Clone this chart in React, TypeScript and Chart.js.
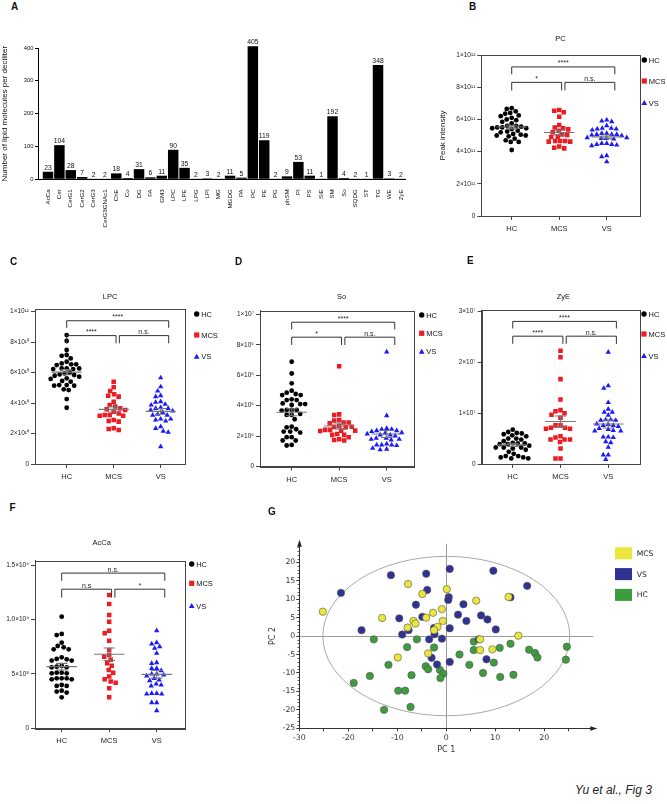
import React, { useEffect, useRef } from 'react';
import { Chart, registerables } from 'chart.js';

Chart.register(...registerables);

const SANS = '"Liberation Sans", Arial, Helvetica, sans-serif';
const DEJAVU = '"DejaVu Sans", Verdana, sans-serif';
Chart.defaults.font.family = SANS;

// ================= Panel A : lipid classes =================
const lipidClasses = ['AcCa', 'Cer', 'CerG1', 'CerG2', 'CerG3', 'CerG3GNAc1', 'ChE', 'Co', 'DG', 'FA', 'GM3', 'LPC', 'LPE', 'LPG', 'LPI', 'MG', 'MGDG', 'PA', 'PC', 'PE', 'PG', 'phSM', 'PI', 'PS', 'SiE', 'SM', 'So', 'SQDG', 'ST', 'TG', 'WE', 'ZyE'];
const lipidCounts = [23, 104, 28, 7, 2, 2, 18, 4, 31, 6, 11, 90, 35, 2, 3, 2, 11, 5, 405, 119, 2, 9, 53, 11, 1, 192, 4, 2, 1, 348, 3, 2];
const countTicks = [0, 100, 200, 300, 400];
const countTitle = 'Number of lipid molecules per deciliter';

// ================= Dot plots (B-F) =================
const groups = ['HC', 'MCS', 'VS'];
const groupColors = ['#000000', '#ec1c24', '#1a1aff'];
const groupShapes = ['circle', 'rect', 'triangle'];
const groupRadii = [2.4, 3.2, 3.1];

// PC (x 1e11)
const pcHC = [6.7, 6.65, 6.5, 6.4, 6.35, 6.25, 6.2, 6.1, 6.0, 5.95, 5.85, 5.75, 5.6, 5.6, 5.55, 5.5, 5.5, 5.45, 5.45, 5.4, 5.3, 5.25, 5.2, 5.1, 5.05, 5.0, 5.0, 4.95, 4.8, 4.7, 4.6, 4.6, 4.1];
const pcMCS = [6.58, 6.54, 6.44, 6.17, 5.65, 5.49, 5.45, 5.38, 5.3, 5.2, 5.07, 5.03, 4.93, 4.9, 4.66, 4.66, 4.66, 4.62, 4.62, 4.31, 4.24, 4.2];
const pcVS = [5.96, 5.9, 5.86, 5.61, 5.45, 5.45, 5.4, 5.4, 5.34, 5.13, 5.13, 5.07, 5.07, 5.07, 5.03, 4.99, 4.87, 4.87, 4.82, 4.82, 4.78, 4.51, 4.51, 4.45, 4.45, 4.41, 4.37, 3.75, 3.69, 3.37];
const pcTicks = [0, 2e11, 4e11, 6e11, 8e11, 1e12];
const pcTickLabels = ['0', '2×10¹¹', '4×10¹¹', '6×10¹¹', '8×10¹¹', '1×10¹²'];
const pcSig = ['****', '*', 'n.s.'];

// LPC (x 1e10)
const lpcHC = [8.46, 8.07, 7.48, 7.15, 7.1, 6.93, 6.71, 6.6, 6.54, 6.54, 6.49, 6.27, 6.27, 6.27, 6.23, 6.23, 5.99, 5.94, 5.88, 5.84, 5.79, 5.73, 5.62, 5.58, 5.45, 5.4, 5.18, 5.18, 5.14, 5.14, 4.9, 4.85, 4.26, 3.69];
const lpcMCS = [5.4, 5.03, 4.79, 4.57, 4.48, 4.42, 4.09, 3.87, 3.77, 3.65, 3.59, 3.54, 3.43, 3.32, 3.21, 3.21, 3.17, 3.17, 2.89, 2.82, 2.78, 2.34, 2.3, 2.23];
const lpcVS = [5.66, 5.07, 4.79, 4.48, 4.42, 4.09, 4.05, 3.92, 3.87, 3.7, 3.65, 3.65, 3.54, 3.48, 3.39, 3.26, 3.21, 3.21, 2.95, 2.95, 2.89, 2.82, 2.45, 2.34, 2.16, 2.08, 1.14];
const lpcTicks = [0, 2e10, 4e10, 6e10, 8e10, 1e11];
const lpcTickLabels = ['0', '2×10¹⁰', '4×10¹⁰', '6×10¹⁰', '8×10¹⁰', '1×10¹¹'];
const lpcSig = ['****', '****', 'n.s.'];

// So (x 1e6)
const soHC = [6.89, 6.12, 5.47, 4.99, 4.86, 4.77, 4.7, 4.7, 4.42, 4.37, 4.37, 4.15, 4.11, 4.11, 4.05, 3.72, 3.72, 3.72, 3.68, 3.46, 3.39, 3.39, 3.11, 2.62, 2.58, 2.45, 2.3, 2.3, 2.23, 1.93, 1.93, 1.71, 1.71, 1.42, 1.38];
const soMCS = [6.6, 3.43, 3.39, 3.06, 3.02, 2.89, 2.89, 2.84, 2.67, 2.62, 2.62, 2.58, 2.41, 2.41, 2.36, 2.36, 2.34, 2.14, 2.08, 2.08, 1.93, 1.79, 1.75, 1.71];
const soVS = [7.54, 3.35, 2.51, 2.45, 2.45, 2.36, 2.36, 2.3, 2.23, 2.19, 2.14, 2.08, 2.08, 2.01, 1.86, 1.86, 1.79, 1.79, 1.75, 1.49, 1.42, 1.42, 1.42, 1.38, 1.2, 1.14, 1.1];
const soTicks = [0, 2e6, 4e6, 6e6, 8e6, 1e7];
const soTickLabels = ['0', '2×10⁶', '4×10⁶', '6×10⁶', '8×10⁶', '1×10⁷'];
const soSig = ['****', '*', 'n.s.'];

// ZyE (x 1e7)
const zyHC = [0.675, 0.63, 0.61, 0.6, 0.585, 0.565, 0.545, 0.5, 0.5, 0.48, 0.45, 0.416, 0.403, 0.403, 0.39, 0.39, 0.36, 0.325, 0.325, 0.325, 0.305, 0.28, 0.24, 0.2, 0.156, 0.156, 0.13, 0.13, 0.11, 0.11];
const zyMCS = [2.23, 2.1, 1.67, 1.27, 1.06, 1.04, 1.0, 0.97, 0.91, 0.76, 0.76, 0.714, 0.714, 0.695, 0.695, 0.546, 0.52, 0.48, 0.48, 0.48, 0.435, 0.305, 0.11, 0.11];
const zyVS = [2.2, 1.54, 1.49, 1.21, 1.08, 1.02, 1.02, 0.96, 0.87, 0.87, 0.86, 0.86, 0.79, 0.78, 0.76, 0.76, 0.74, 0.7, 0.68, 0.66, 0.65, 0.65, 0.53, 0.53, 0.52, 0.44, 0.42, 0.33, 0.18, 0.18, 0.09];
const zyTicks = [0, 1e7, 2e7, 3e7];
const zyTickLabels = ['0', '1×10⁷', '2×10⁷', '3×10⁷'];
const zySig = ['****', '****', 'n.s.'];

// AcCa (x 1e8)
const acHC = [10.26, 8.67, 8.57, 7.87, 7.56, 7.44, 7.26, 7.26, 6.52, 6.37, 6.34, 6.22, 6.22, 5.73, 5.66, 5.6, 5.6, 5.11, 5.11, 5.05, 5.05, 4.59, 4.59, 4.59, 4.5, 4.5, 3.98, 3.89, 3.89, 3.46, 3.37, 3.28, 2.85];
const acMCS = [12.25, 11.42, 10.41, 9.8, 8.97, 8.73, 8.05, 7.2, 6.74, 6.58, 6.3, 5.97, 5.75, 5.36, 5.11, 4.75, 4.5, 4.3, 4.19, 3.67, 2.85];
const acVS = [8.97, 7.87, 7.75, 7.5, 7.35, 6.89, 6.03, 5.97, 5.51, 5.51, 5.3, 4.99, 4.99, 4.9, 4.81, 4.59, 4.44, 4.38, 4.07, 3.98, 3.89, 3.21, 3.21, 3.15, 3.15, 2.36, 2.36, 1.62];
const acTicks = [0, 5e8, 1e9, 1.5e9];
const acTickLabels = ['0', '5×10⁸', '1.0×10⁹', '1.5×10⁹'];
const acSig = ['n.s.', 'n.s', '*'];

// ================= Panel G : PCA =================
const pcaGroups = ['MCS', 'VS', 'HC'];
const pcaColors = ['#e9e63c', '#2f3293', '#3e9b3e'];
const mcsPC1 = [-25.2, -13.1, -7.8, -4.9, 0.1, -2.7, -0.9, -4.1, -6.7, -6.3, -7.9, -0.7, -1.8, -2.5, 6.1, 12.7, 14.7, 6.9, 6.9, 9.4, -9.9, -3.7];
const mcsPC2 = [6.6, 4.9, 14.1, 11.4, 12.7, 6.3, 7.3, 5.0, 4.1, 3.4, 2.3, 4.1, 2.5, 1.6, 9.6, 10.6, 0.1, -0.9, -3.8, -3.6, -5.8, -4.7];
const vsPC1 = [-21.5, -11.3, -4.1, 0.7, 9.6, 16.5, 13.1, -3.9, 0.5, 0.4, -6.2, 3.5, -9.6, -4.9, 2.4, 7.1, 8.4, 4.1, -17.3, -7.7, -9.0, -2.5, -2.4, 0.7, 10.1, -3.5, -0.9, 6.6, -3.0, -1.9, 0.7, 8.2];
const vsPC2 = [11.7, 16.5, 16.9, 18.2, 17.7, 13.6, 10.5, 12.5, 10.5, 9.8, 8.5, 8.6, 4.8, 5.2, 5.8, 5.6, 4.5, 4.1, 1.6, 1.6, 0.4, 2.2, 0.5, 2.1, 1.8, -0.9, -0.7, -0.9, -5.9, -7.7, -7.0, -6.3];
const hcPC1 = [-14.8, -6.0, -8.0, -2.5, -11.8, -15.6, -18.9, -7.1, -4.2, -3.7, -1.3, -0.6, -1.2, -9.8, -8.4, -12.7, -7.3, 2.7, 4.7, 5.6, 5.6, 7.5, 9.7, 10.9, 11.0, 13.1, 13.7, 16.9, 18.1, 18.6, 24.6, 24.4];
const hcPC2 = [-0.9, -0.9, -3.0, -3.1, -7.8, -10.8, -12.7, -10.6, -8.2, -9.0, -9.2, -10.2, -11.4, -14.8, -14.8, -20.0, -19.2, -5.0, -7.8, -1.5, -3.8, -10.0, -7.2, -3.2, -11.1, -2.1, -10.5, -3.7, -4.6, -5.8, -2.9, -6.4];
const pc1Ticks = [-30, -25, -20, -15, -10, -5, 0, 5, 10, 15, 20, 25];
const pc1TickLabels = ['-30', '', '-20', '', '-10', '', '0', '', '10', '', '20', ''];
const pc2Ticks = [-25, -20, -15, -10, -5, 0, 5, 10, 15, 20];
const pc2TickLabels = ['-25', '-20', '-15', '-10', '-5', '0', '5', '10', '15', '20'];
const ellipseRadii = [25.2, 21.6];

// ================= helpers =================
type Area = { l: number; t: number; r: number; b: number };
type DotSpec = {
  title: string; unit: number; values: number[][]; ticks: number[]; tickLabels: string[]; yMax: number;
  xMin: number; xMax: number; sig: string[]; W: number; H: number; area: Area;
  titleXY: [number, number]; legendX: number; legendY: number[]; yTitle?: string; yTitlePad?: number;
};

const BR_TOP = 0.926, BR_TOP_LEG = 0.88, BR_LOW = 0.83, BR_LOW_LEG = 0.78;
const BR_X = { a: 1, b1: 2.05, b2: 2.12, c: 3.17 };
const MEAN_HALF = 0.32, CAP_HALF = 0.12;

function stats(v: number[]) {
  const n = v.length;
  const m = v.reduce((a, b) => a + b, 0) / n;
  const sd = Math.sqrt(v.reduce((a, b) => a + (b - m) * (b - m), 0) / (n - 1));
  return { m, se: sd / Math.sqrt(n) };
}

function beeswarm(chart: any, gap: number) {
  const xs = chart.scales.x, ys = chart.scales.y;
  chart.data.datasets.forEach((ds: any, gi: number) => {
    const cx = xs.getPixelForValue(gi + 1);
    const order = ds.data.map((p: any, k: number) => ({ k, py: ys.getPixelForValue(p.y) })).sort((a: any, b: any) => a.py - b.py);
    const placed: { px: number; py: number }[] = [];
    for (const p of order) {
      let px = cx;
      for (let step = 0; step < 800; step++) {
        const off = Math.ceil(step / 2) * 0.5 * (step % 2 ? -1 : 1);
        const cand = cx + off;
        if (placed.every(q => (q.px - cand) ** 2 + (q.py - p.py) ** 2 >= gap * gap)) { px = cand; break; }
      }
      placed.push({ px, py: p.py });
      ds.data[p.k] = { x: xs.getValueForPixel(px), y: ds.data[p.k].y };
    }
  });
  chart.update('none');
}

function drawMarker(ctx: CanvasRenderingContext2D, shape: string, x: number, y: number, color: string) {
  ctx.fillStyle = color;
  ctx.beginPath();
  if (shape === 'circle') ctx.arc(x, y, 2.7, 0, Math.PI * 2);
  else if (shape === 'rect') ctx.rect(x - 2.6, y - 2.6, 5.2, 5.2);
  else { ctx.moveTo(x, y - 3); ctx.lineTo(x + 2.9, y + 2); ctx.lineTo(x - 2.9, y + 2); ctx.closePath(); }
  ctx.fill();
}

function buildDot(canvas: HTMLCanvasElement, s: DotSpec): Chart {
  const datasets = s.values.map((vals, gi) => ({
    label: groups[gi],
    data: vals.map(v => ({ x: gi + 1, y: v * s.unit })),
    pointStyle: groupShapes[gi],
    pointRadius: groupRadii[gi],
    pointHoverRadius: groupRadii[gi],
    backgroundColor: groupColors[gi],
    borderColor: groupColors[gi],
    borderWidth: 0,
  }));
  const decor = {
    id: 'decor',
    afterDatasetsDraw(chart: any) {
      const ctx = chart.ctx, xs = chart.scales.x, ys = chart.scales.y;
      ctx.save();
      ctx.strokeStyle = '#777';
      ctx.lineWidth = 1.1;
      s.values.forEach((vals, gi) => {
        const st = stats(vals);
        const x = xs.getPixelForValue(gi + 1);
        const hw = xs.getPixelForValue(gi + 1 + MEAN_HALF) - x;
        const cw = xs.getPixelForValue(gi + 1 + CAP_HALF) - x;
        const ym = ys.getPixelForValue(st.m * s.unit);
        const yt = ys.getPixelForValue((st.m + st.se) * s.unit);
        const yb = ys.getPixelForValue((st.m - st.se) * s.unit);
        ctx.beginPath();
        ctx.moveTo(x - hw, ym); ctx.lineTo(x + hw, ym);
        ctx.moveTo(x, yt); ctx.lineTo(x, yb);
        ctx.moveTo(x - cw, yt); ctx.lineTo(x + cw, yt);
        ctx.moveTo(x - cw, yb); ctx.lineTo(x + cw, yb);
        ctx.stroke();
      });
      ctx.restore();
    },
    afterDraw(chart: any) {
      const ctx = chart.ctx, xs = chart.scales.x, ys = chart.scales.y, ca = chart.chartArea;
      ctx.save();
      // frame
      ctx.strokeStyle = '#444';
      ctx.lineWidth = 1;
      ctx.strokeRect(Math.round(ca.left) + 0.5, Math.round(ca.top) + 0.5, Math.round(ca.right - ca.left), Math.round(ca.bottom - ca.top));
      // brackets
      const Y = (f: number) => ys.getPixelForValue(f * s.yMax);
      const X = (v: number) => xs.getPixelForValue(v);
      ctx.strokeStyle = '#333';
      ctx.beginPath();
      ctx.moveTo(X(BR_X.a), Y(BR_TOP_LEG)); ctx.lineTo(X(BR_X.a), Y(BR_TOP)); ctx.lineTo(X(BR_X.c), Y(BR_TOP)); ctx.lineTo(X(BR_X.c), Y(BR_TOP_LEG));
      ctx.moveTo(X(BR_X.a), Y(BR_LOW_LEG)); ctx.lineTo(X(BR_X.a), Y(BR_LOW)); ctx.lineTo(X(BR_X.b1), Y(BR_LOW)); ctx.lineTo(X(BR_X.b1), Y(BR_LOW_LEG));
      ctx.moveTo(X(BR_X.b2), Y(BR_LOW_LEG)); ctx.lineTo(X(BR_X.b2), Y(BR_LOW)); ctx.lineTo(X(BR_X.c), Y(BR_LOW)); ctx.lineTo(X(BR_X.c), Y(BR_LOW_LEG));
      ctx.stroke();
      ctx.fillStyle = '#222';
      ctx.font = `7px ${SANS}`;
      ctx.textAlign = 'center';
      ctx.textBaseline = 'alphabetic';
      ctx.fillText(s.sig[0], X((BR_X.a + BR_X.c) / 2), Y(BR_TOP) - 1.5);
      ctx.fillText(s.sig[1], X((BR_X.a + BR_X.b1) / 2), Y(BR_LOW) - 1.5);
      ctx.fillText(s.sig[2], X((BR_X.b2 + BR_X.c) / 2), Y(BR_LOW) - 1.5);
      // title
      ctx.fillStyle = '#111';
      ctx.font = `7.5px ${SANS}`;
      ctx.textBaseline = 'middle';
      ctx.fillText(s.title, s.titleXY[0], s.titleXY[1]);
      // legend
      ctx.textAlign = 'left';
      groups.forEach((g, gi) => {
        drawMarker(ctx, groupShapes[gi], s.legendX, s.legendY[gi], groupColors[gi]);
        ctx.fillStyle = '#111';
        ctx.fillText(g, s.legendX + 4.5, s.legendY[gi] + 0.5);
      });
      ctx.restore();
    },
  };
  const chart = new Chart(canvas, {
    type: 'scatter',
    data: { datasets } as any,
    options: {
      animation: false,
      responsive: false,
      events: [],
      layout: { padding: { left: 0, top: s.area.t, right: s.W - s.area.r, bottom: 0 } },
      plugins: { legend: { display: false }, tooltip: { enabled: false } },
      scales: {
        x: {
          type: 'linear', min: s.xMin, max: s.xMax,
          afterBuildTicks: (a: any) => { a.ticks = [1, 2, 3].map(v => ({ value: v })); },
          ticks: { autoSkip: false, maxRotation: 0, callback: (_v: any, i: number) => groups[i], font: { family: SANS, size: 7.5 }, color: '#222', padding: 4.5 },
          grid: { display: true, drawOnChartArea: false, drawTicks: true, tickLength: 4, color: '#444', tickColor: '#444' },
          border: { display: true, color: '#444', width: 1 },
          afterFit: (a: any) => { a.height = s.H - s.area.b; },
        },
        y: {
          type: 'linear', min: 0, max: s.yMax,
          afterBuildTicks: (a: any) => { a.ticks = s.ticks.map(v => ({ value: v })); },
          ticks: { autoSkip: false, callback: (_v: any, i: number) => s.tickLabels[i], font: { family: SANS, size: 6.5 }, color: '#222', padding: 2 },
          grid: { display: true, drawOnChartArea: false, drawTicks: true, tickLength: 4, color: '#444', tickColor: '#444' },
          border: { display: true, color: '#444', width: 1 },
          title: { display: !!s.yTitle, text: s.yTitle || '', font: { family: SANS, size: 8 }, color: '#222', padding: { top: s.yTitlePad || 0, bottom: 0 } },
          afterFit: (a: any) => { a.width = s.area.l; },
        },
      },
    } as any,
    plugins: [decor],
  });
  beeswarm(chart, 5);
  return chart;
}

// ---------- panel specs (canvas-relative geometry) ----------
const specB: DotSpec = {
  title: 'PC', unit: 1e11, values: [pcHC, pcMCS, pcVS], ticks: pcTicks, tickLabels: pcTickLabels, yMax: 1e12,
  xMin: 0.36, xMax: 3.7, sig: pcSig, W: 237, H: 215, area: { l: 51.3, t: 30, r: 210, b: 191 },
  titleXY: [130.5, 14], legendX: 214.3, legendY: [35, 56, 78], yTitle: 'Peak intensity', yTitlePad: 8.2,
};
const specC: DotSpec = {
  title: 'LPC', unit: 1e10, values: [lpcHC, lpcMCS, lpcVS], ticks: lpcTicks, tickLabels: lpcTickLabels, yMax: 1.015e11,
  xMin: 0.326, xMax: 3.517, sig: lpcSig, W: 230, H: 205, area: { l: 35, t: 24.3, r: 185, b: 179 },
  titleXY: [110, 11.7], legendX: 196.7, legendY: [29, 50, 71.7],
};
const specD: DotSpec = {
  title: 'So', unit: 1e6, values: [soHC, soMCS, soVS], ticks: soTicks, tickLabels: soTickLabels, yMax: 1.025e7,
  xMin: 0.333, xMax: 3.575, sig: soSig, W: 226, H: 205, area: { l: 38, t: 25.7, r: 192, b: 181.5 },
  titleXY: [119.7, 11.7], legendX: 199.7, legendY: [30, 48.3, 66.7],
};
const specE: DotSpec = {
  title: 'ZyE', unit: 1e7, values: [zyHC, zyMCS, zyVS], ticks: zyTicks, tickLabels: zyTickLabels, yMax: 3.03e7,
  xMin: 0.35, xMax: 3.65, sig: zySig, W: 230, H: 205, area: { l: 44.7, t: 25, r: 202.3, b: 179 },
  titleXY: [126.3, 11.7], legendX: 207, legendY: [29, 49, 71],
};
const specF: DotSpec = {
  title: 'AcCa', unit: 1e8, values: [acHC, acMCS, acVS], ticks: acTicks, tickLabels: acTickLabels, yMax: 1.54e9,
  xMin: 0.438, xMax: 3.596, sig: acSig, W: 230, H: 230, area: { l: 35, t: 30.7, r: 185, b: 198.3 },
  titleXY: [101.7, 13.3], legendX: 191.7, legendY: [34, 53.3, 76],
};

// ---------- Panel A ----------
const A_W = 430, A_H = 250;
const A_AREA: Area = { l: 38, t: 18, r: 405, b: 149.3 };

function buildA(canvas: HTMLCanvasElement): Chart {
  const valueLabels = {
    id: 'valueLabels',
    afterDatasetsDraw(chart: any) {
      const ctx = chart.ctx;
      const meta = chart.getDatasetMeta(0);
      ctx.save();
      ctx.font = `6.8px ${SANS}`;
      ctx.fillStyle = '#111';
      ctx.textAlign = 'center';
      ctx.textBaseline = 'alphabetic';
      meta.data.forEach((el: any, i: number) => ctx.fillText(String(lipidCounts[i]), el.x, el.y - 2));
      ctx.restore();
    },
  };
  return new Chart(canvas, {
    type: 'bar',
    data: { datasets: [{ data: lipidCounts.map((v, i) => ({ x: i, y: v })), backgroundColor: '#000', borderWidth: 0, barPercentage: 0.92, categoryPercentage: 1, clip: false }] } as any,
    options: {
      animation: false, responsive: false, events: [],
      layout: { padding: { left: 0, top: A_AREA.t, right: A_W - A_AREA.r, bottom: 0 } },
      plugins: { legend: { display: false }, tooltip: { enabled: false } },
      scales: {
        x: {
          type: 'linear', min: -0.88, max: 31.37, offset: false,
          afterBuildTicks: (a: any) => { a.ticks = lipidClasses.map((_c, i) => ({ value: i })); },
          ticks: { autoSkip: false, minRotation: 90, maxRotation: 90, callback: (_v: any, i: number) => lipidClasses[i], font: { family: SANS, size: 6.2 }, color: '#111', padding: 2 },
          grid: { display: false, offset: false },
          border: { display: true, color: '#000', width: 1 },
          afterFit: (a: any) => { a.height = A_H - A_AREA.b; },
        },
        y: {
          type: 'linear', min: 0, max: 400,
          afterBuildTicks: (a: any) => { a.ticks = countTicks.map(v => ({ value: v })); },
          ticks: { font: { family: SANS, size: 5.8 }, color: '#111', padding: 1.5 },
          grid: { display: true, drawOnChartArea: false, tickLength: 3, color: '#000', tickColor: '#000' },
          border: { display: true, color: '#000', width: 1 },
          title: { display: true, text: countTitle, font: { family: SANS, size: 8 }, color: '#111', padding: { top: 0, bottom: 0 } },
          afterFit: (a: any) => { a.width = A_AREA.l; },
        },
      },
    } as any,
    plugins: [valueLabels],
  });
}

// ---------- Panel G ----------
const G_W = 427, G_H = 240;
const G_AREA: Area = { l: 59.3, t: 13.8, r: 353.3, b: 198.3 };

function buildG(canvas: HTMLCanvasElement): Chart {
  const xsData = [mcsPC1, vsPC1, hcPC1];
  const ysData = [mcsPC2, vsPC2, hcPC2];
  const datasets = pcaGroups.map((g, gi) => ({
    label: g,
    data: xsData[gi].map((x, i) => ({ x, y: ysData[gi][i] })),
    backgroundColor: pcaColors[gi],
    borderColor: '#555',
    borderWidth: 0.6,
    pointRadius: 3.7,
    pointHoverRadius: 3.7,
  }));
  const decor = {
    id: 'pcaDecor',
    beforeDatasetsDraw(chart: any) {
      const ctx = chart.ctx, xs = chart.scales.x, ys = chart.scales.y;
      const cx = xs.getPixelForValue(0), cy = ys.getPixelForValue(0);
      const rx = xs.getPixelForValue(ellipseRadii[0]) - cx;
      const ry = cy - ys.getPixelForValue(ellipseRadii[1]);
      ctx.save();
      ctx.strokeStyle = '#a8a8a8';
      ctx.lineWidth = 1;
      ctx.beginPath();
      ctx.ellipse(cx, cy, rx, ry, 0, 0, Math.PI * 2);
      ctx.stroke();
      ctx.restore();
    },
    afterDraw(chart: any) {
      const ctx = chart.ctx, ys = chart.scales.y, ca = chart.chartArea;
      ctx.save();
      // minor ticks on y axis
      ctx.strokeStyle = '#333';
      ctx.lineWidth = 0.8;
      ctx.beginPath();
      for (let v = -25; v <= 25; v += 1) {
        if (v % 5 === 0) continue;
        const y = Math.round(ys.getPixelForValue(v)) + 0.5;
        ctx.moveTo(ca.left - 1.8, y); ctx.lineTo(ca.left, y);
      }
      ctx.stroke();
      // arrows
      ctx.fillStyle = '#222';
      const lx = Math.round(ca.left) + 0.5, by = Math.round(ca.bottom) + 0.5;
      ctx.beginPath();
      ctx.moveTo(lx, ca.top - 4); ctx.lineTo(lx - 2.3, ca.top + 3); ctx.lineTo(lx + 2.3, ca.top + 3); ctx.closePath();
      ctx.fill();
      ctx.beginPath();
      ctx.moveTo(ca.right + 4, by); ctx.lineTo(ca.right - 3, by - 2.3); ctx.lineTo(ca.right - 3, by + 2.3); ctx.closePath();
      ctx.fill();
      // legend
      ctx.font = `7.6px ${DEJAVU}`;
      ctx.textAlign = 'left';
      ctx.textBaseline = 'middle';
      pcaGroups.forEach((g, gi) => {
        const y = 17.3 + gi * 20.8;
        ctx.fillStyle = pcaColors[gi];
        ctx.fillRect(375, y, 17, 12);
        ctx.fillStyle = '#222';
        ctx.fillText(g, 396.7, y + 6.5);
      });
      ctx.restore();
    },
  };
  return new Chart(canvas, {
    type: 'scatter',
    data: { datasets } as any,
    options: {
      animation: false, responsive: false, events: [],
      layout: { padding: { left: 0, top: G_AREA.t, right: G_W - G_AREA.r, bottom: 0 } },
      plugins: { legend: { display: false }, tooltip: { enabled: false } },
      scales: {
        x: {
          type: 'linear', min: -30, max: 30,
          afterBuildTicks: (a: any) => { a.ticks = pc1Ticks.map(v => ({ value: v })); },
          ticks: { autoSkip: false, maxRotation: 0, callback: (_v: any, i: number) => pc1TickLabels[i], font: { family: DEJAVU, size: 7.8 }, color: '#333', padding: 2 },
          grid: { display: true, drawOnChartArea: true, tickLength: 3, color: (c: any) => (c.tick && c.tick.value === 0 ? '#9c9c9c' : 'rgba(0,0,0,0)'), tickColor: '#333' },
          border: { display: true, color: '#333', width: 1 },
          title: { display: true, text: 'PC 1', font: { family: DEJAVU, size: 8 }, color: '#333', padding: { top: 0, bottom: 15 } },
          afterFit: (a: any) => { a.height = G_H - G_AREA.b; },
        },
        y: {
          type: 'linear', min: -25, max: 25,
          afterBuildTicks: (a: any) => { a.ticks = pc2Ticks.map(v => ({ value: v })); },
          ticks: { autoSkip: false, callback: (_v: any, i: number) => pc2TickLabels[i], font: { family: DEJAVU, size: 7.8 }, color: '#333', padding: 1 },
          grid: { display: true, drawOnChartArea: true, tickLength: 3, color: (c: any) => (c.tick && c.tick.value === 0 ? '#9c9c9c' : 'rgba(0,0,0,0)'), tickColor: '#333' },
          border: { display: true, color: '#333', width: 1 },
          title: { display: true, text: 'PC 2', font: { family: DEJAVU, size: 8 }, color: '#333', padding: { top: 28, bottom: 0 } },
          afterFit: (a: any) => { a.width = G_AREA.l; },
        },
      },
    } as any,
    plugins: [decor],
  });
}

// ================= React =================
function ChartBox(props: { left: number; top: number; width: number; height: number; build: (c: HTMLCanvasElement) => Chart }) {
  const ref = useRef<HTMLCanvasElement | null>(null);
  useEffect(() => {
    if (!ref.current) return;
    const chart = props.build(ref.current);
    return () => chart.destroy();
  }, []);
  return (
    <canvas
      ref={ref}
      width={props.width}
      height={props.height}
      style={{ position: 'absolute', left: props.left, top: props.top, width: props.width, height: props.height, display: 'block' }}
    />
  );
}

const letterStyle: React.CSSProperties = { position: 'absolute', font: `bold 10px ${SANS}`, lineHeight: '10px', color: '#111' };
const panelLetters: [string, number, number][] = [
  ['A', 11, 2], ['B', 469, 2], ['C', 10, 257], ['D', 235, 257], ['E', 467, 256], ['F', 9.5, 503], ['G', 268, 507],
];

export default function App() {
  return (
    <div style={{ position: 'absolute', left: 0, top: 0, width: 667, height: 804, background: '#fff', overflow: 'hidden' }}>
      <ChartBox left={0} top={30} width={A_W} height={A_H} build={buildA} />
      <ChartBox left={430} top={25} width={specB.W} height={specB.H} build={c => buildDot(c, specB)} />
      <ChartBox left={0} top={285} width={specC.W} height={specC.H} build={c => buildDot(c, specC)} />
      <ChartBox left={222} top={285} width={specD.W} height={specD.H} build={c => buildDot(c, specD)} />
      <ChartBox left={437} top={285} width={specE.W} height={specE.H} build={c => buildDot(c, specE)} />
      <ChartBox left={0} top={530} width={specF.W} height={specF.H} build={c => buildDot(c, specF)} />
      <ChartBox left={240} top={530} width={G_W} height={G_H} build={buildG} />
      {panelLetters.map(([t, x, y]) => (
        <div key={t} style={{ ...letterStyle, left: x, top: y }}>{t}</div>
      ))}
      <div style={{ position: 'absolute', left: 575, top: 784, font: `italic 12px ${SANS}`, lineHeight: '12px', color: '#222', whiteSpace: 'nowrap' }}>
        Yu et al., Fig 3
      </div>
    </div>
  );
}
